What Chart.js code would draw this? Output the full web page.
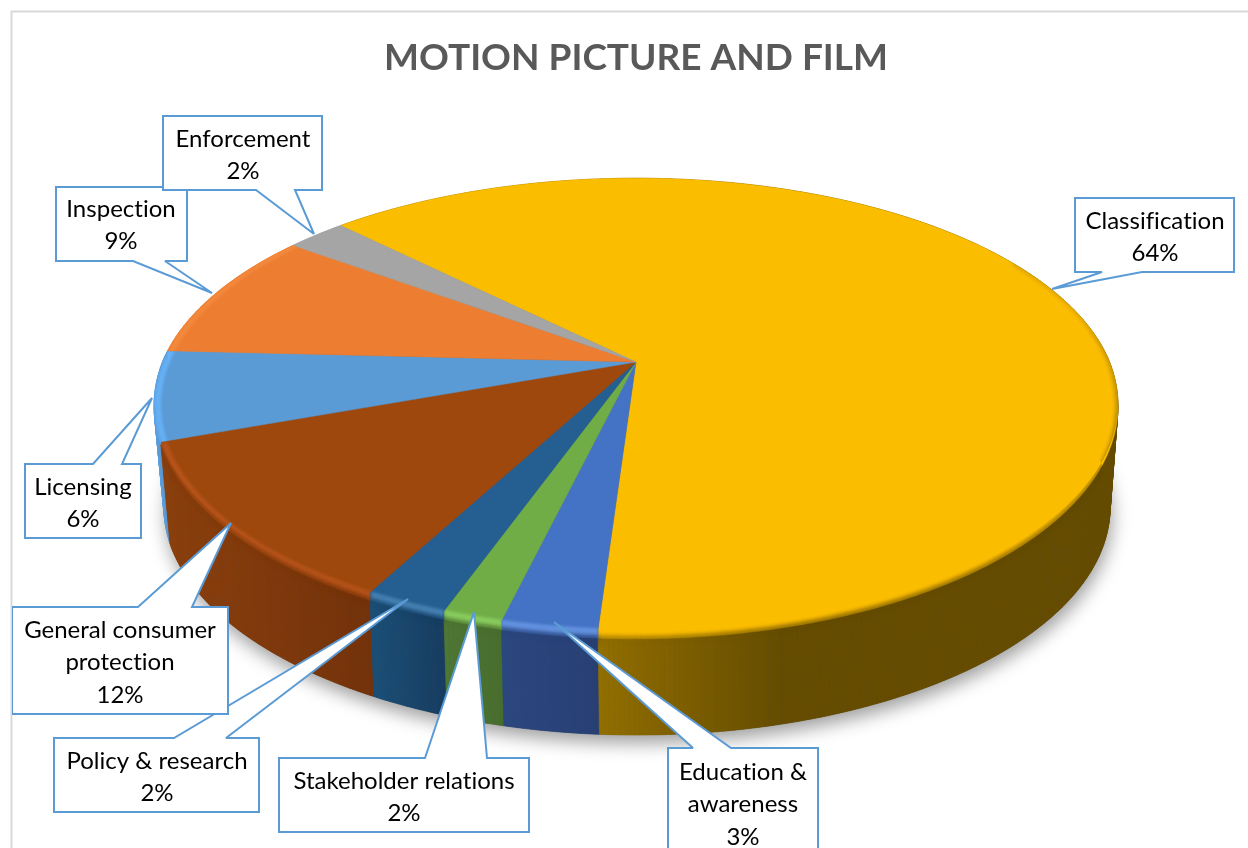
<!DOCTYPE html>
<html>
<head>
<meta charset="utf-8">
<style>html,body{margin:0;padding:0;background:#fff}#w{width:1248px;height:848px}</style>
<script src="https://cdn.jsdelivr.net/npm/chart.js@4"></script>
</head>
<body>
<div id="w"><canvas id="c" width="1248" height="848"></canvas></div>
<script>
const chartTitle = 'MOTION PICTURE AND FILM';
const categories = ['Classification','Education & awareness','Stakeholder relations','Policy & research','General consumer protection','Licensing','Inspection','Enforcement'];
const shares = [63.51,2.7,1.69,2.35,11.65,6.4,9.3,2.4];

const faceColors = ['#fbbd00','#4472c4','#70ad47','#255e91','#9e480e','#5b9bd5','#ed7d31','#a5a5a5'];
const glowColors = [null,'#6492e0','#8acc5e','#4580b2','#b5531a','#68b4fa','#f48c40',null];
const wallRamps = [
  [600,780,'#916e00','#654c00'],[503,600,'#2b477f','#283f73'],[445,503,'#4e7634','#486d2e'],
  [372,445,'#1b4e76','#173c60'],[160,372,'#8c3f0c','#73320a'],[150,170,'#62a6e4','#4f8cc6'],
  [150,300,'#f08a3e','#f08a3e'],[290,345,'#a5a5a5','#a5a5a5']
];
const top3d = {cx:636,cy:362,A:473.6,B:218,k:0.186,bevel:9};
const base3d = {cx:637,cy:463,A:464,B:219,k:0.195};
const callouts = [
  {box:[1075,198,1234,272],base:[1102,1142],tip:[1052,289],tx:1155,ty:221},
  {box:[668,748,818,880],base:[693,731],tip:[554,622],tx:743,ty:772},
  {box:[279,758,529,832],base:[425,487],tip:[474,612],tx:404,ty:781},
  {box:[54,738,259,812],base:[174,226],tip:[408,599],tx:157,ty:761},
  {box:[12,607,228,714],base:[138,192],tip:[231,523],tx:120,ty:630},
  {box:[25,464,141,538],base:[93,122],tip:[152,398],tx:83,ty:487},
  {box:[56,187,187,261],base:[133,165],tip:[212,293],tx:121,ty:209},
  {box:[163,116,322,190],base:[256,295],tip:[314,234],tx:243,ty:139}
];
const FONT = 'Lato, Calibri, sans-serif';
const labelFont = '24px ' + FONT;
const lineGap = 32.5;

function rimPoint(a, shift){
  const u=Math.cos(a), v=Math.sin(a), d=1-top3d.k*v;
  return [top3d.cx+top3d.A*u/d, top3d.cy+top3d.B*v/d + shift*top3d.bevel*Math.max(0,v)];
}
function basePoint(a){
  const u=Math.cos(a), v=Math.sin(a), d=1-base3d.k*v;
  return [base3d.cx+base3d.A*u/d, base3d.cy+base3d.B*v/d];
}
function hexMix(c1,c2,t){
  t=Math.max(0,Math.min(1,t));
  const p=c=>[1,3,5].map(i=>parseInt(c.substr(i,2),16));
  const a=p(c1),b=p(c2);
  return 'rgb('+a.map((x,i)=>Math.round(x+(b[i]-x)*t)).join(',')+')';
}
function angles(s,e){
  const n=Math.max(2,Math.ceil((e-s)/(Math.PI/360))), out=[];
  for(let i=0;i<=n;i++) out.push(s+(e-s)*i/n);
  return out;
}
function poly(ctx,pts){
  ctx.beginPath();
  pts.forEach((p,i)=>i?ctx.lineTo(p[0],p[1]):ctx.moveTo(p[0],p[1]));
  ctx.closePath();
}
function wedge(as){
  const pts=[[top3d.cx,top3d.cy],rimPoint(as[0],0)];
  as.forEach(a=>pts.push(rimPoint(a,1)));
  pts.push(rimPoint(as[as.length-1],0));
  return pts;
}

const pie3d = {
  id:'pie3d',
  beforeDraw(chart){
    const ctx=chart.ctx;
    ctx.save();
    ctx.fillStyle='#fff';ctx.fillRect(0,0,1248,848);
    ctx.strokeStyle='#d9d9d9';ctx.lineWidth=2;
    ctx.beginPath();ctx.moveTo(11.5,848);ctx.lineTo(11.5,11.5);ctx.lineTo(1248,11.5);ctx.stroke();
    ctx.restore();
  },
  beforeDatasetsDraw(chart){
    const ctx=chart.ctx, arcs=chart.getDatasetMeta(0).data;
    const slices=arcs.map((el,i)=>({i,as:angles(el.startAngle,el.endAngle)}));

    ctx.save();
    ctx.shadowColor='rgba(0,0,0,0.38)';ctx.shadowBlur=18;ctx.shadowOffsetY=8;ctx.shadowOffsetX=2;
    ctx.fillStyle='#555';
    poly(ctx,angles(0,Math.PI*2).map(basePoint));ctx.fill();
    ctx.restore();

    const quads=[];
    slices.forEach(({i,as})=>{
      for(let j=0;j<as.length-1;j++){
        const a=as[j],b=as[j+1];
        quads.push({i,q:[rimPoint(a,1),rimPoint(b,1),basePoint(b),basePoint(a)],v:Math.sin((a+b)/2)});
      }
    });
    quads.sort((m,n)=>m.v-n.v);
    quads.forEach(({i,q})=>{
      const r=wallRamps[i], x=(q[0][0]+q[1][0])/2;
      const col=hexMix(r[2],r[3],(x-r[0])/(r[1]-r[0]));
      ctx.fillStyle=col;ctx.strokeStyle=col;ctx.lineWidth=0.6;
      poly(ctx,q);ctx.fill();ctx.stroke();
    });

    slices.forEach(({i,as})=>{
      const pts=wedge(as);
      ctx.fillStyle=faceColors[i];ctx.strokeStyle=faceColors[i];ctx.lineWidth=0.5;
      poly(ctx,pts);ctx.fill();ctx.stroke();
      if(glowColors[i]){
        ctx.save();
        poly(ctx,pts);ctx.clip();
        ctx.filter='blur(1.6px)';
        ctx.fillStyle=glowColors[i];
        const lower=as.map(a=>rimPoint(a,0.8));
        const upper=as.slice().reverse().map(a=>{
          const c=Math.cos(a),s=Math.sin(a),p=rimPoint(a,0);
          return [p[0]-c*7*Math.abs(c),p[1]-(s>0?s*1:s*3)];
        });
        poly(ctx,lower.concat(upper));ctx.fill();
        ctx.restore();
      }
    });
    slices.forEach(({i,as})=>{
      const r=wallRamps[i];
      ctx.save();
      const lowerEdge=as.map(basePoint).reverse();
      poly(ctx,[[top3d.cx,top3d.cy]].concat(as.map(a=>rimPoint(a,0))).concat(lowerEdge));
      ctx.clip();
      ctx.filter='blur(2.2px)';
      for(let j=0;j<as.length-1;j++){
        const a=as[j],b=as[j+1];
        if(Math.sin(a)<-0.5||Math.sin(b)<-0.5) continue;
        const pa=rimPoint(a,1),pb=rimPoint(b,1);
        ctx.strokeStyle=hexMix(r[2],r[3],((pa[0]+pb[0])/2-r[0])/(r[1]-r[0]));
        ctx.lineWidth=1+Math.max(0,Math.sin(a)+0.2)*3;
        ctx.beginPath();ctx.moveTo(pa[0],pa[1]);ctx.lineTo(pb[0],pb[1]);ctx.stroke();
      }
      ctx.restore();
    });
    return false;
  },
  afterDraw(chart){
    const ctx=chart.ctx, total=shares.reduce((a,b)=>a+b,0);
    ctx.save();
    ctx.beginPath();ctx.rect(12,0,1236,848);ctx.clip();
    callouts.forEach((c,i)=>{
      const [x0,y0,x1,y1]=c.box,[b0,b1]=c.base,tip=c.tip;
      const tipAbove=tip[1]<y0, pts=[[x0,y0]];
      if(tipAbove) pts.push([b0,y0],tip,[b1,y0]);
      pts.push([x1,y0],[x1,y1]);
      if(!tipAbove) pts.push([b1,y1],tip,[b0,y1]);
      pts.push([x0,y1]);
      poly(ctx,pts);
      ctx.fillStyle='#fff';ctx.fill();
      ctx.strokeStyle='#5b9bd5';ctx.lineWidth=2;ctx.lineJoin='miter';ctx.miterLimit=2;ctx.stroke();

      ctx.fillStyle='#000';ctx.font=labelFont;ctx.textAlign='center';ctx.textBaseline='middle';
      ctx.letterSpacing='0.01px';
      const maxW=x1-x0-8, lines=[];
      let cur='';
      categories[i].split(' ').forEach(w=>{
        const t=cur?cur+' '+w:w;
        if(ctx.measureText(t).width>maxW&&cur){lines.push(cur);cur=w;}else cur=t;
      });
      lines.push(cur);
      lines.push(Math.round(shares[i]/total*100)+'%');
      lines.forEach((l,k)=>ctx.fillText(l,c.tx,c.ty+k*lineGap));
    });
    ctx.restore();
  }
};

new Chart(document.getElementById('c'),{
  type:'pie',
  data:{labels:categories,datasets:[{data:shares,backgroundColor:faceColors,borderWidth:0}]},
  options:{
    responsive:false,animation:false,rotation:-44.9,
    layout:{padding:{left:24}},
    plugins:{
      legend:{display:false},tooltip:{enabled:false},
      title:{display:true,text:chartTitle,color:'#595959',font:{family:FONT,size:37,weight:'bold'},padding:{top:36,bottom:10}}
    }
  },
  plugins:[pie3d]
});
</script>
</body>
</html>
